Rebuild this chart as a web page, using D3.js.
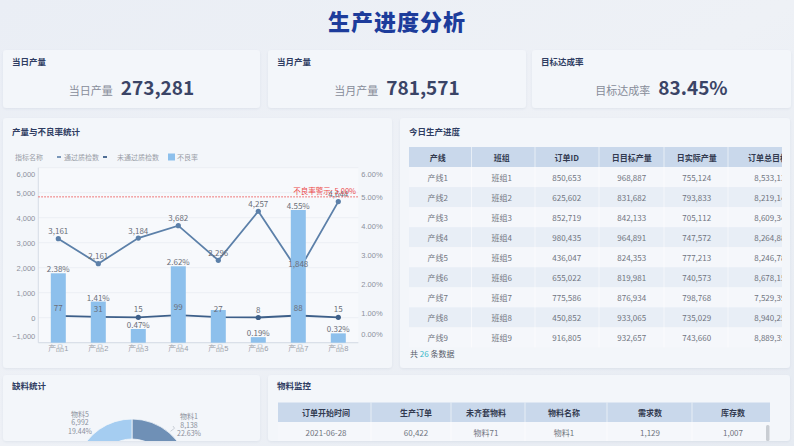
<!DOCTYPE html>
<html><head><meta charset="utf-8">
<script src="https://cdn.jsdelivr.net/npm/d3@7"></script>
<style>
html,body{margin:0;padding:0;background:#e9eef5;}
svg{display:block;font-family:"Noto Sans CJK SC","Noto Sans",sans-serif;}
</style></head><body><svg id="c" width="794" height="446"></svg>
<script>
// ---------- data ----------
const pageTitle = "生产进度分析";
const kpiTitles = ["当日产量", "当月产量", "目标达成率"];
const kpiLabels = ["当日产量", "当月产量", "目标达成率"];
const kpiValues = ["273,281", "781,571", "83.45%"];

const products = ["产品1","产品2","产品3","产品4","产品5","产品6","产品7","产品8"];
const passCounts = [3161, 2161, 3184, 3682, 2296, 4257, 1848, 4644];
const failCounts = [77, 31, 15, 99, 27, 8, 88, 15];
const defectRates = [2.38, 1.41, 0.47, 2.62, 1.12, 0.19, 4.55, 0.32];
const hiddenRateLabels = ["产品5"];
const leftTicks = [-1000, 0, 1000, 2000, 3000, 4000, 5000, 6000];
const rightTicks = [0, 1, 2, 3, 4, 5, 6];
const warnRate = 5.00;
const legendItems = ["通过质检数", "未通过质检数", "不良率"];

const tableCols = ["产线","班组","订单ID","日目标产量","日实际产量","订单总目标产量"];
const lineNames = ["产线1","产线2","产线3","产线4","产线5","产线6","产线7","产线8","产线9"];
const groupNames = ["班组1","班组2","班组3","班组4","班组5","班组6","班组7","班组8","班组9"];
const orderIds = [850653, 625602, 852719, 980435, 436047, 655022, 775586, 450852, 916805];
const dailyTarget = [968887, 831682, 842133, 964891, 824353, 819981, 876934, 933065, 932657];
const dailyActual = [755124, 793833, 705112, 747572, 777213, 740573, 798768, 735029, 743660];
const orderTotal = [8533130, 8219140, 8609340, 8264880, 8246780, 8678150, 7529390, 8940250, 8889350];
const totalRows = 26;

const matCols = ["订单开始时间","生产订单","未齐套物料","物料名称","需求数","库存数"];
const matRow = ["2021-06-28", "60,422", "物料71", "物料1", "1,129", "1,007"];

const shortNames = ["物料1", "物料5"];
const shortValues = [8138, 6992];
const shortPcts = [22.63, 19.44];

// ---------- setup ----------
const svg = d3.select("#c");
const defs = svg.append("defs");
const bg = defs.append("linearGradient").attr("id","bg").attr("x1",0).attr("y1",0).attr("x2",1).attr("y2",1);
bg.append("stop").attr("offset","0%").attr("stop-color","#eaeef5");
bg.append("stop").attr("offset","50%").attr("stop-color","#eef1f6");
bg.append("stop").attr("offset","100%").attr("stop-color","#e6ebf2");
const sh = defs.append("filter").attr("id","sh").attr("x","-5%").attr("y","-5%").attr("width","110%").attr("height","120%");
sh.append("feDropShadow").attr("dx",0).attr("dy",1).attr("stdDeviation",1.2).attr("flood-color","#9aa8bd").attr("flood-opacity",0.18);

svg.append("rect").attr("width",794).attr("height",446).attr("fill","url(#bg)");

svg.append("text").attr("x",397).attr("y",20).attr("text-anchor","middle")
  .attr("dominant-baseline","central").attr("font-size",22).attr("font-weight",900)
  .attr("fill","#1d3c9b").attr("letter-spacing",1).text(pageTitle);

function panel(x, y, w, h, title, ty) {
  svg.append("rect").attr("x",x).attr("y",y).attr("width",w).attr("height",h)
    .attr("rx",3).attr("fill","#f3f6fa").attr("filter","url(#sh)");
  svg.append("text").attr("x",x+9).attr("y",ty).attr("dominant-baseline","central")
    .attr("font-size",8.5).attr("font-weight",700).attr("fill","#2f3d62").text(title);
}

// ---------- KPIs ----------
const kpiX = [3, 268, 532];
const kpiW = [257, 258, 259];
kpiX.forEach((px, i) => {
  panel(px, 50, kpiW[i], 58, kpiTitles[i], 61);
  const t = svg.append("text").attr("x", px + kpiW[i]/2).attr("y", 95).attr("text-anchor","middle");
  t.append("tspan").attr("font-size",11).attr("fill","#878c99").text(kpiLabels[i]);
  t.append("tspan").attr("dx",8).attr("font-size",19).attr("font-weight",700).attr("fill","#3a4466").text(kpiValues[i]);
});

// ---------- combo chart ----------
panel(3, 118, 389, 250, "产量与不良率统计", 131);
const x = d3.scaleBand().domain(products).range([38.3, 358.3]);
const yL = d3.scaleLinear().domain([-1000, 6000]).range([342.7, 167.7]);
const yR = d3.scaleLinear().domain([0, 6]).range([342.7, 167.7]);
const cx = d => x(d) + x.bandwidth()/2;

svg.append("rect").attr("x",38.3).attr("y",167.7).attr("width",320).attr("height",175)
  .attr("fill","#f7f9fc");
svg.append("g").selectAll("line").data(leftTicks).join("line")
  .attr("x1",38.3).attr("x2",358.3).attr("y1",d=>yL(d)).attr("y2",d=>yL(d))
  .attr("stroke","#e8ecf2").attr("stroke-width",0.8);
svg.append("line").attr("x1",38.3).attr("x2",38.3).attr("y1",167.7).attr("y2",342.7).attr("stroke","#d6dce5");
svg.append("line").attr("x1",38.3).attr("x2",358.3).attr("y1",342.7).attr("y2",342.7).attr("stroke","#d6dce5");

const gL = svg.append("g").attr("transform","translate(38.3,0)")
  .call(d3.axisLeft(yL).tickValues(leftTicks).tickSize(0).tickPadding(3).tickFormat(d3.format(",")));
const gR = svg.append("g").attr("transform","translate(358.3,0)")
  .call(d3.axisRight(yR).tickValues(rightTicks).tickSize(0).tickPadding(3).tickFormat(d => d.toFixed(2) + "%"));
[gL, gR].forEach(g => {
  g.select(".domain").remove();
  g.selectAll("text").attr("font-size",7.5).attr("fill","#8c919c").attr("font-family",null);
});
gL.selectAll(".tick").filter(d => d === 6000).select("text").attr("dy","1.2em");
gL.selectAll(".tick").filter(d => d === -1000).select("text").attr("dy","-0.6em");
gR.selectAll(".tick").filter(d => d === 6).select("text").attr("dy","1.2em");
gR.selectAll(".tick").filter(d => d === 0).select("text").attr("dy","-0.8em");

const gX = svg.append("g").attr("transform","translate(0,342.7)")
  .call(d3.axisBottom(x).tickSize(0).tickPadding(3));
gX.select(".domain").remove();
gX.selectAll("text").attr("font-size",7.5).attr("fill","#9a9ea8").attr("font-family",null);

// lines (drawn below bars)
const passData = products.map((p, i) => ({p, v: passCounts[i]}));
const failData = products.map((p, i) => ({p, v: failCounts[i]}));
const ln = d3.line().x(d => cx(d.p)).y(d => yL(d.v));
svg.append("path").datum(passData).attr("d", ln).attr("fill","none").attr("stroke","#5c80a9").attr("stroke-width",1.8);
svg.append("g").selectAll("circle").data(passData).join("circle")
  .attr("cx", d => cx(d.p)).attr("cy", d => yL(d.v)).attr("r",2.6).attr("fill","#5c80a9");
svg.append("path").datum(failData).attr("d", ln).attr("fill","none").attr("stroke","#3d5f89").attr("stroke-width",1.8);
svg.append("g").selectAll("circle").data(failData).join("circle")
  .attr("cx", d => cx(d.p)).attr("cy", d => yL(d.v)).attr("r",2.6).attr("fill","#3d5f89");

// bars on top
const rateData = products.map((p, i) => ({p, v: defectRates[i]}));
svg.append("g").selectAll("rect").data(rateData).join("rect")
  .attr("x", d => cx(d.p) - 7.5).attr("width", 15)
  .attr("y", d => yR(d.v)).attr("height", d => yR(0) - yR(d.v))
  .attr("fill","#8dc0ec");

const lbl = (data, yf, off, fmt) => svg.append("g").selectAll("text").data(data).join("text")
  .attr("x", d => cx(d.p)).attr("y", d => yf(d.v) + off)
  .attr("text-anchor","middle").attr("dominant-baseline","central")
  .attr("font-size",8).attr("fill","#6a6e78").text(d => fmt(d.v));
lbl(rateData.filter(d => !hiddenRateLabels.includes(d.p)), yR, -4.5, v => v.toFixed(2) + "%");
lbl(passData, yL, -8, d3.format(","));
lbl(failData, yL, -8.5, d3.format(","));

// warning line
svg.append("line").attr("x1",38.3).attr("x2",358.3).attr("y1",yR(warnRate)).attr("y2",yR(warnRate))
  .attr("stroke","#ec5454").attr("stroke-width",1).attr("stroke-dasharray","1.5,1.5");
svg.append("text").attr("x",356).attr("y",yR(warnRate) - 6).attr("text-anchor","end")
  .attr("dominant-baseline","central").attr("font-size",7.5).attr("fill","#ec4848")
  .text("不良率警示: " + warnRate.toFixed(2) + "%");

// legend
const lg = svg.append("g").attr("font-size",7).attr("fill","#9a9ea8");
lg.append("text").attr("x",15).attr("y",157).attr("dominant-baseline","central").text("指标名称");
lg.append("line").attr("x1",57).attr("x2",61).attr("y1",157).attr("y2",157).attr("stroke","#5c80a9").attr("stroke-width",1.6);
lg.append("text").attr("x",64).attr("y",157).attr("dominant-baseline","central").text(legendItems[0]);
lg.append("line").attr("x1",103).attr("x2",107).attr("y1",157).attr("y2",157).attr("stroke","#3d5f89").attr("stroke-width",1.8);
lg.append("text").attr("x",117).attr("y",157).attr("dominant-baseline","central").text(legendItems[1]);
lg.append("rect").attr("x",168).attr("y",153.5).attr("width",7).attr("height",7).attr("fill","#8dc0ec");
lg.append("text").attr("x",177).attr("y",157).attr("dominant-baseline","central").text(legendItems[2]);

// ---------- production table ----------
panel(400, 118, 390, 250, "今日生产进度", 131);
defs.append("clipPath").attr("id","tclip").append("rect").attr("x",405).attr("y",140).attr("width",377).attr("height",215);
const tg = svg.append("g").attr("clip-path","url(#tclip)");
const tEdges = [409, 471.5, 535, 599, 664, 728, 824];
const tCenters = [437.7, 501.7, 566.7, 631.7, 696.7, 776];
const hY = 147, hH = 20, rH = 20.05;
const tW = tEdges[6] - tEdges[0];
const fmt = d3.format(",");
const rows = lineNames.map((n, i) => [n, groupNames[i], fmt(orderIds[i]), fmt(dailyTarget[i]), fmt(dailyActual[i]), fmt(orderTotal[i])]);
tg.append("rect").attr("x",tEdges[0]).attr("y",hY).attr("width",tW).attr("height",hH).attr("fill","#c9d8eb");
rows.forEach((r, i) => {
  tg.append("rect").attr("x",tEdges[0]).attr("y",hY+hH+i*rH).attr("width",tW).attr("height",rH)
    .attr("fill", i % 2 ? "#e8eef6" : "#f5f7fb");
});
tEdges.slice(1, -1).forEach(e => {
  tg.append("line").attr("x1",e).attr("x2",e).attr("y1",hY).attr("y2",hY+hH+9*rH)
    .attr("stroke","#ffffff").attr("stroke-opacity",0.7).attr("stroke-width",0.8);
});
tg.selectAll("text.h").data(tableCols).join("text").attr("class","h")
  .attr("x",(d,i)=>tCenters[i]).attr("y",hY+hH/2).attr("text-anchor","middle")
  .attr("dominant-baseline","central").attr("font-size",8).attr("font-weight",700).attr("fill","#323a50").text(d=>d);
rows.forEach((r, i) => {
  tg.selectAll("text.r"+i).data(r).join("text").attr("class","r"+i)
    .attr("x",(d,j)=>tCenters[j] - (j === 5 ? 4 : 0)).attr("y",hY+hH+i*rH+rH/2).attr("text-anchor","middle")
    .attr("dominant-baseline","central").attr("font-size",8).attr("fill","#70757f").text(d=>d);
});
const ft = svg.append("text").attr("x",410).attr("y",353).attr("dominant-baseline","central").attr("font-size",8).attr("fill","#555b68");
ft.append("tspan").text("共 ");
ft.append("tspan").attr("fill","#35b6c8").text(totalRows);
ft.append("tspan").text(" 条数据");

// ---------- shortage pie ----------
panel(3, 375, 257, 66, "缺料统计", 385);
defs.append("clipPath").attr("id","pclip").append("rect").attr("x",3).attr("y",375).attr("width",257).attr("height",66);
const pg = svg.append("g").attr("clip-path","url(#pclip)");
const pcx = 132, pcy = 476, R = 57, r0 = 37;
const arc = d3.arc().innerRadius(r0).outerRadius(R);
const tau = 2 * Math.PI;
const slices = [
  {name: shortNames[0], value: shortValues[0], pct: shortPcts[0], s: 0, e: shortPcts[0]/100*tau, color:"#6f90b6"},
  {name: shortNames[1], value: shortValues[1], pct: shortPcts[1], s: -shortPcts[1]/100*tau, e: 0, color:"#a5cdf1"}
];
pg.selectAll("path").data(slices).join("path")
  .attr("transform",`translate(${pcx},${pcy})`)
  .attr("d", d => arc({startAngle:d.s, endAngle:d.e}))
  .attr("fill", d => d.color).attr("stroke","#f3f6fa").attr("stroke-width",0.8);
slices.forEach((d, i) => {
  const a = (d.s + d.e) / 2;
  const px = pcx + Math.sin(a) * (R + 2), py = pcy - Math.cos(a) * (R + 2);
  const right = i === 0;
  const lx = right ? 189 : 80, ly = right ? 416 : 413.5;
  if (right) {
    pg.append("polyline").attr("points",`${px},${py} ${px+4},${py-3} ${lx-16},${ly+10}`)
      .attr("fill","none").attr("stroke","#b8bec8").attr("stroke-width",0.7);
  }
  const t = pg.append("text").attr("text-anchor","middle").attr("font-size",7).attr("fill","#8a8f9a");
  [d.name, fmt(d.value), d.pct.toFixed(2) + "%"].forEach((s, k) => {
    t.append("tspan").attr("x",lx).attr("y",ly + k*8.5).attr("dominant-baseline","central").text(s);
  });
});

// ---------- material table ----------
panel(268, 375, 522, 66, "物料监控", 385);
const mcCenters = [326, 416, 486, 564, 650, 733];
const mEdges = [278, 371, 451, 525, 607, 692, 770];
svg.append("rect").attr("x",278).attr("y",402.5).attr("width",492).attr("height",19.5).attr("fill","#c9d8eb");
svg.append("rect").attr("x",278).attr("y",422).attr("width",492).attr("height",19).attr("fill","#f5f7fb");
mEdges.slice(1, -1).forEach(e => svg.append("line").attr("x1",e).attr("x2",e).attr("y1",402.5).attr("y2",441)
  .attr("stroke","#ffffff").attr("stroke-opacity",0.7).attr("stroke-width",0.8));
svg.selectAll("text.mh").data(matCols).join("text").attr("class","mh")
  .attr("x",(d,i)=>mcCenters[i]).attr("y",412).attr("text-anchor","middle").attr("dominant-baseline","central")
  .attr("font-size",8).attr("font-weight",700).attr("fill","#323a50").text(d=>d);
svg.selectAll("text.mr").data(matRow).join("text").attr("class","mr")
  .attr("x",(d,i)=>mcCenters[i]).attr("y",432).attr("text-anchor","middle").attr("dominant-baseline","central")
  .attr("font-size",8).attr("fill","#70757f").text(d=>d);
svg.append("rect").attr("x",766).attr("y",425).attr("width",3.5).attr("height",16).attr("rx",1.5).attr("fill","#c9cdd3");
</script></body></html>
